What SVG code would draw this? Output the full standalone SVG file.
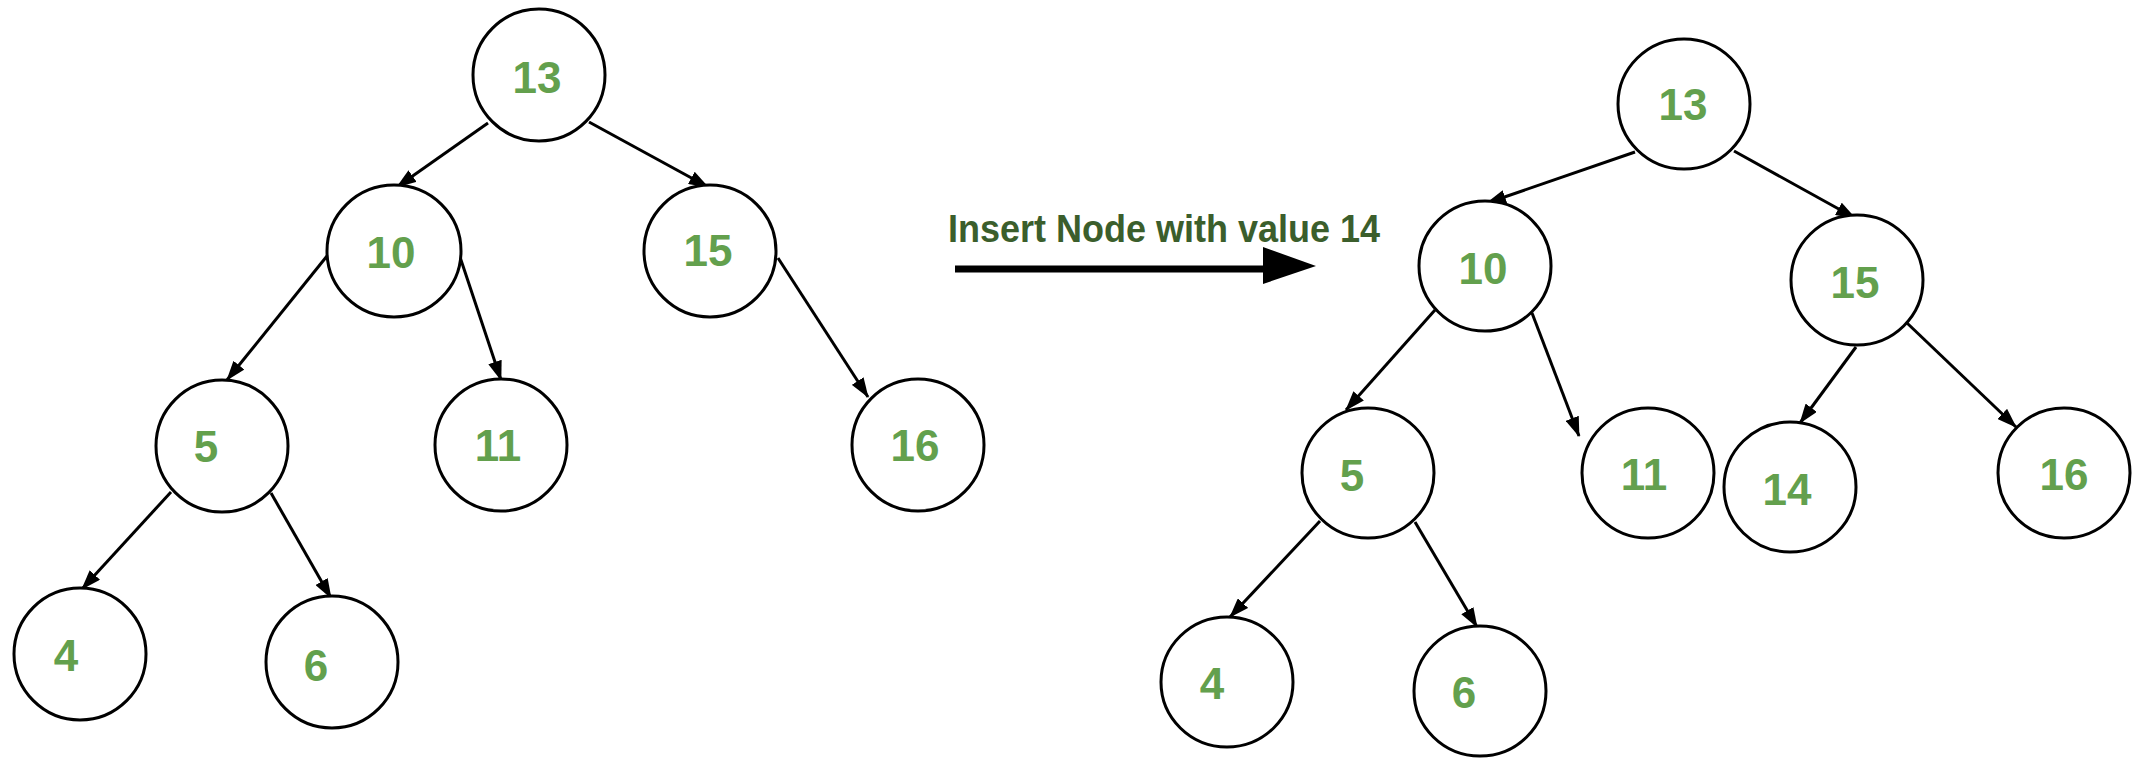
<svg xmlns="http://www.w3.org/2000/svg" width="2133" height="758" viewBox="0 0 2133 758">
<defs>
<style>
.n ellipse{fill:#fff;stroke:#000;stroke-width:3}
.n text{font-family:"Liberation Sans",Arial,sans-serif;font-size:44px;font-weight:bold;fill:#63a04d;text-anchor:middle}
.e line{stroke:#000;stroke-width:3;marker-end:url(#ah)}
</style>
<marker id="ah" markerUnits="userSpaceOnUse" markerWidth="20" markerHeight="14" viewBox="0 0 20 14" refX="19" refY="7" orient="auto">
<path d="M0,0 L20,7 L0,14 z" fill="#000"/>
</marker>
</defs>
<rect width="2133" height="758" fill="#fff"/>
<g id="connectors" class="e">
<line x1="488" y1="123" x2="397" y2="187"/>
<line x1="589" y1="122" x2="708" y2="187"/>
<line x1="327" y1="256" x2="227" y2="380"/>
<line x1="460" y1="257" x2="501" y2="380"/>
<line x1="778" y1="258" x2="868" y2="397"/>
<line x1="171" y1="492" x2="82" y2="589"/>
<line x1="271" y1="493" x2="331" y2="598"/>
<line x1="1635" y1="152" x2="1487" y2="203"/>
<line x1="1734" y1="151" x2="1855" y2="218"/>
<line x1="1435" y1="310" x2="1346" y2="410"/>
<line x1="1532" y1="313" x2="1579" y2="436"/>
<line x1="1856" y1="347" x2="1800" y2="423"/>
<line x1="1907" y1="323" x2="2016" y2="427"/>
<line x1="1320" y1="521" x2="1230" y2="617"/>
<line x1="1415" y1="522" x2="1477" y2="627"/>
</g>
<g id="insert-arrow">
<line x1="955" y1="269" x2="1266" y2="269" stroke="#000" stroke-width="7"/>
<polygon points="1263,247 1316,266 1263,284" fill="#000"/>
<text x="948" y="242" font-family="'Liberation Sans',Arial,sans-serif" font-weight="bold" font-size="38" fill="#3b5e2c" textLength="432" lengthAdjust="spacingAndGlyphs">Insert Node with value 14</text>
</g>
<g id="L13" class="n"><ellipse cx="539" cy="75" rx="66" ry="66"/><text x="537" y="93">13</text></g>
<g id="L10" class="n"><ellipse cx="394" cy="251" rx="67" ry="66"/><text x="391" y="268">10</text></g>
<g id="L15" class="n"><ellipse cx="710" cy="251" rx="66" ry="66"/><text x="708" y="266">15</text></g>
<g id="L5" class="n"><ellipse cx="222" cy="446" rx="66" ry="66"/><text x="206" y="462">5</text></g>
<g id="L11" class="n"><ellipse cx="501" cy="445" rx="66" ry="66"/><text x="498" y="461">11</text></g>
<g id="L16" class="n"><ellipse cx="918" cy="445" rx="66" ry="66"/><text x="915" y="461">16</text></g>
<g id="L4" class="n"><ellipse cx="80" cy="654" rx="66" ry="66"/><text x="66" y="671">4</text></g>
<g id="L6" class="n"><ellipse cx="332" cy="662" rx="66" ry="66"/><text x="316" y="681">6</text></g>
<g id="R13" class="n"><ellipse cx="1684" cy="104" rx="66" ry="65"/><text x="1683" y="120">13</text></g>
<g id="R10" class="n"><ellipse cx="1485" cy="266" rx="66" ry="65"/><text x="1483" y="284">10</text></g>
<g id="R15" class="n"><ellipse cx="1857" cy="280" rx="66" ry="65"/><text x="1855" y="298">15</text></g>
<g id="R5" class="n"><ellipse cx="1368" cy="473" rx="66" ry="65"/><text x="1352" y="491">5</text></g>
<g id="R11" class="n"><ellipse cx="1648" cy="473" rx="66" ry="65"/><text x="1644" y="490">11</text></g>
<g id="R14" class="n"><ellipse cx="1790" cy="487" rx="66" ry="65"/><text x="1787" y="505">14</text></g>
<g id="R16" class="n"><ellipse cx="2064" cy="473" rx="66" ry="65"/><text x="2064" y="490">16</text></g>
<g id="R4" class="n"><ellipse cx="1227" cy="682" rx="66" ry="65"/><text x="1212" y="699">4</text></g>
<g id="R6" class="n"><ellipse cx="1480" cy="691" rx="66" ry="65"/><text x="1464" y="708">6</text></g>
</svg>
